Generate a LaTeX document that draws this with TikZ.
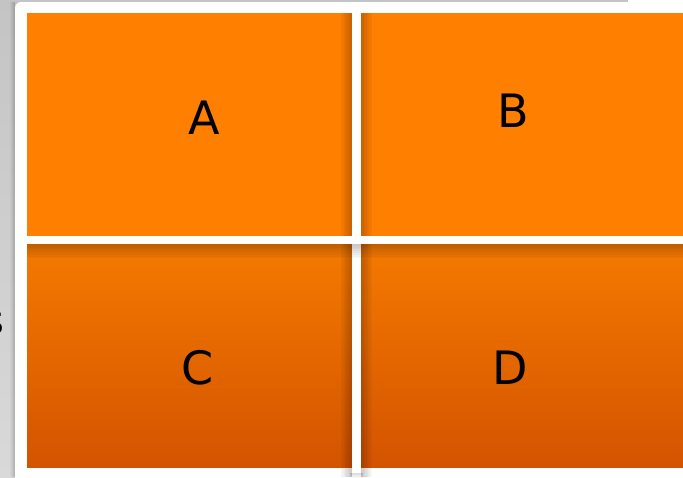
\documentclass[tikz,border=0pt]{standalone}
\usepackage{fontspec}
\setmainfont{DejaVu Sans}
\definecolor{upper}{HTML}{FF7F00}
\definecolor{lowtop}{HTML}{F47A00}
\definecolor{lowbot}{HTML}{D35400}
\definecolor{bgtop}{HTML}{C4C4C4}
\definecolor{bgbot}{HTML}{D9D9D9}
\begin{document}
\begin{tikzpicture}[x=1pt,y=-1pt,
  lab/.style={inner sep=0pt, font=\fontsize{46}{50}\selectfont, text=black},
  shadowstrip/.style={fill=black, opacity=0.028}]
\useasboundingbox (0,0) rectangle (683,477);
\clip (0,0) rectangle (683,477);
% grey background
\shade[top color=bgtop, bottom color=bgbot] (0,0) rectangle (683,477);
\fill[white] (628,0) rectangle (683,2);
% shadow of the panel on the left
\foreach \i in {1,...,6} \fill[shadowstrip] (15-\i*0.8,2) rectangle (15,477);
% white panel
\fill[white, rounded corners=6pt] (15,2) rectangle (700,495);
% blocks
\fill[upper] (27,13) rectangle (352,236);
\fill[upper] (361,13) rectangle (690,236);
\shade[top color=lowtop, bottom color=lowbot] (27,244) rectangle (352,467);
\shade[top color=lowtop, bottom color=lowbot] (361,244) rectangle (690,467);
% shadows beside the vertical bar
\foreach \i in {1,...,8} {
  \fill[shadowstrip] (352-\i*1.4,13) rectangle (352,477);
  \fill[shadowstrip] (361,13) rectangle (361+\i*1.4,477);
}
% vertical bar
\fill[white] (352,13) rectangle (361,473);
\foreach \i in {1,...,5} \fill[shadowstrip] (350,473) rectangle (363,473+\i*1);
% shadow below horizontal bar
\foreach \i in {1,...,8} \fill[shadowstrip] (27,244) rectangle (690,244+\i*1.8);
% horizontal bar
\fill[white] (27,236) rectangle (690,244);
% labels
\node[lab] (a) at (204,118) {A};
\node[lab] (b) at (513.5,111) {B};
\node[lab] (c) at (198,368) {C};
\node[lab] (d) at (510,368) {D};
\node[lab, font=\fontsize{40}{44}\selectfont, anchor=east] (s) at (4.5,324) {s};
\end{tikzpicture}
\end{document}
